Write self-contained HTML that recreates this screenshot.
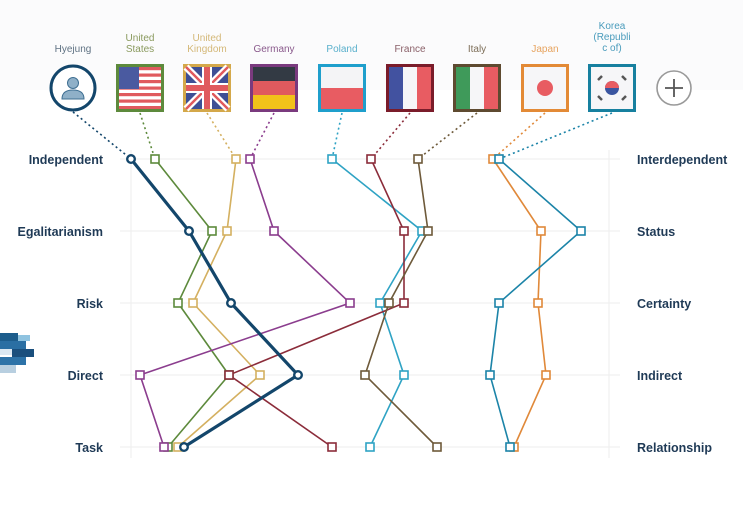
<!DOCTYPE html>
<html><head><meta charset="utf-8"><style>
body{margin:0;background:#fff;}
svg{display:block;font-family:"Liberation Sans","DejaVu Sans",sans-serif;}
</style></head><body>
<svg width="743" height="513" viewBox="0 0 743 513" xmlns="http://www.w3.org/2000/svg">
<rect width="743" height="513" fill="#fff"/>
<rect width="743" height="90" fill="#fbfbfc"/>
<g stroke="#eeeeee" stroke-width="1">
<line x1="120" y1="159" x2="620" y2="159"/><line x1="120" y1="231" x2="620" y2="231"/>
<line x1="120" y1="303" x2="620" y2="303"/><line x1="120" y1="375" x2="620" y2="375"/>
<line x1="120" y1="447" x2="620" y2="447"/>
<line x1="131" y1="150" x2="131" y2="458"/><line x1="609" y1="150" x2="609" y2="458"/>
</g>
<g font-size="12.5" font-weight="bold" fill="#1f3a56">
<text x="103" y="164" text-anchor="end">Independent</text>
<text x="103" y="236" text-anchor="end">Egalitarianism</text>
<text x="103" y="308" text-anchor="end">Risk</text>
<text x="103" y="380" text-anchor="end">Direct</text>
<text x="103" y="452" text-anchor="end">Task</text>
<text x="637" y="164">Interdependent</text>
<text x="637" y="236">Status</text>
<text x="637" y="308">Certainty</text>
<text x="637" y="380">Indirect</text>
<text x="637" y="452">Relationship</text>
</g>
<rect x="0" y="333" width="18" height="8" fill="#1d5d8c"/><rect x="18" y="335" width="12" height="6" fill="#8fc3e0"/>
<rect x="0" y="341" width="26" height="8" fill="#2a6fa3"/><rect x="0" y="349" width="12" height="6" fill="#dbe8f2"/>
<rect x="12" y="349" width="22" height="8" fill="#1a4f7d"/><rect x="0" y="357" width="26" height="8" fill="#2d73a8"/>
<rect x="0" y="365" width="16" height="8" fill="#b8cfe0"/>
<g stroke-dasharray="2,3" stroke-width="1.6" fill="none">
<line x1="73" y1="112" x2="131" y2="159" stroke="#13466b"/>
<line x1="140" y1="113" x2="155" y2="159" stroke="#5d8a3c"/>
<line x1="207" y1="113" x2="236" y2="159" stroke="#d4b060"/>
<line x1="274" y1="113" x2="250" y2="159" stroke="#8b3d8e"/>
<line x1="342" y1="113" x2="332" y2="159" stroke="#2fa3c4"/>
<line x1="410" y1="113" x2="371" y2="159" stroke="#8b2c3a"/>
<line x1="477" y1="113" x2="418" y2="159" stroke="#6e5a3a"/>
<line x1="545" y1="113" x2="493" y2="159" stroke="#e0893a"/>
<line x1="612" y1="113" x2="499" y2="159" stroke="#1c84a8"/>
</g>
<g fill="none" stroke-width="1.6">
<polyline points="155,159 212,231 178,303 229,375 168,447" stroke="#5d8a3c"/>
<polyline points="236,159 227,231 193,303 260,375 178,447" stroke="#d4b060"/>
<polyline points="250,159 274,231 350,303 140,375 164,447" stroke="#8b3d8e"/>
<polyline points="332,159 422,231 380,303 404,375 370,447" stroke="#2fa3c4"/>
<polyline points="371,159 404,231 404,303 229,375 332,447" stroke="#8b2c3a"/>
<polyline points="418,159 428,231 389,303 365,375 437,447" stroke="#6e5a3a"/>
<polyline points="493,159 541,231 538,303 546,375 514,447" stroke="#e0893a"/>
<polyline points="499,159 581,231 499,303 490,375 510,447" stroke="#1c84a8"/>
</g>
<polyline points="131,159 189,231 231,303 298,375 184,447" fill="none" stroke="#13466b" stroke-width="3.2"/>
<g fill="#fff" stroke-width="1.6">
<g stroke="#5d8a3c"><rect x="151" y="155" width="8" height="8"/><rect x="208" y="227" width="8" height="8"/><rect x="174" y="299" width="8" height="8"/><rect x="225" y="371" width="8" height="8"/><rect x="164" y="443" width="8" height="8"/></g>
<g stroke="#d4b060"><rect x="232" y="155" width="8" height="8"/><rect x="223" y="227" width="8" height="8"/><rect x="189" y="299" width="8" height="8"/><rect x="256" y="371" width="8" height="8"/><rect x="174" y="443" width="8" height="8"/></g>
<g stroke="#8b3d8e"><rect x="246" y="155" width="8" height="8"/><rect x="270" y="227" width="8" height="8"/><rect x="346" y="299" width="8" height="8"/><rect x="136" y="371" width="8" height="8"/><rect x="160" y="443" width="8" height="8"/></g>
<g stroke="#2fa3c4"><rect x="328" y="155" width="8" height="8"/><rect x="418" y="227" width="8" height="8"/><rect x="376" y="299" width="8" height="8"/><rect x="400" y="371" width="8" height="8"/><rect x="366" y="443" width="8" height="8"/></g>
<g stroke="#8b2c3a"><rect x="367" y="155" width="8" height="8"/><rect x="400" y="227" width="8" height="8"/><rect x="400" y="299" width="8" height="8"/><rect x="225" y="371" width="8" height="8"/><rect x="328" y="443" width="8" height="8"/></g>
<g stroke="#6e5a3a"><rect x="414" y="155" width="8" height="8"/><rect x="424" y="227" width="8" height="8"/><rect x="385" y="299" width="8" height="8"/><rect x="361" y="371" width="8" height="8"/><rect x="433" y="443" width="8" height="8"/></g>
<g stroke="#e0893a"><rect x="489" y="155" width="8" height="8"/><rect x="537" y="227" width="8" height="8"/><rect x="534" y="299" width="8" height="8"/><rect x="542" y="371" width="8" height="8"/><rect x="510" y="443" width="8" height="8"/></g>
<g stroke="#1c84a8"><rect x="495" y="155" width="8" height="8"/><rect x="577" y="227" width="8" height="8"/><rect x="495" y="299" width="8" height="8"/><rect x="486" y="371" width="8" height="8"/><rect x="506" y="443" width="8" height="8"/></g>
<g stroke="#13466b" stroke-width="2.4"><circle cx="131" cy="159" r="3.8"/><circle cx="189" cy="231" r="3.8"/><circle cx="231" cy="303" r="3.8"/><circle cx="298" cy="375" r="3.8"/><circle cx="184" cy="447" r="3.8"/></g>
</g>
<g font-size="10" text-anchor="middle">
<text x="73" y="52" fill="#5f7283">Hyejung</text>
<text x="140" y="41" fill="#8a9a5e">United</text><text x="140" y="52" fill="#8a9a5e">States</text>
<text x="207" y="41" fill="#d4b878">United</text><text x="207" y="52" fill="#d4b878">Kingdom</text>
<text x="274" y="52" fill="#8a5a8c">Germany</text>
<text x="342" y="52" fill="#5ab0cc">Poland</text>
<text x="410" y="52" fill="#8a6068">France</text>
<text x="477" y="52" fill="#7d6e58">Italy</text>
<text x="545" y="52" fill="#e7a460">Japan</text>
<text x="612" y="29" fill="#4a9cbc">Korea</text><text x="612" y="40" fill="#4a9cbc">(Republi</text><text x="612" y="51" fill="#4a9cbc">c of)</text>
</g>
<circle cx="73" cy="88" r="22" fill="#fff" stroke="#13466b" stroke-width="3"/>
<circle cx="73" cy="83" r="5.5" fill="#8fb0c8" stroke="#3f6f92" stroke-width="1"/>
<path d="M62,99 Q62,90 73,90 Q84,90 84,99 Z" fill="#8fb0c8" stroke="#3f6f92" stroke-width="1"/>
<g>
<rect x="116" y="64" width="48" height="48" fill="#5d8a3c"/>
<rect x="119" y="67" width="42" height="42" fill="#fff"/>
<g fill="#e05a5e"><rect x="119" y="67" width="42" height="3.2"/><rect x="119" y="73.5" width="42" height="3.2"/><rect x="119" y="80" width="42" height="3.2"/><rect x="119" y="86.5" width="42" height="3.2"/><rect x="119" y="93" width="42" height="3.2"/><rect x="119" y="99.5" width="42" height="3.2"/><rect x="119" y="106" width="42" height="3"/></g>
<rect x="119" y="67" width="20" height="22" fill="#4a5aa0"/>
</g>
<g>
<rect x="183" y="64" width="48" height="48" fill="#d4a84a"/>
<rect x="186" y="67" width="42" height="42" fill="#3e4f95"/>
<path d="M186,67 L228,109 M228,67 L186,109" stroke="#fff" stroke-width="7"/>
<path d="M186,67 L228,109 M228,67 L186,109" stroke="#e05a5e" stroke-width="2.5"/>
<rect x="186" y="83" width="42" height="10" fill="#fff"/><rect x="202" y="67" width="10" height="42" fill="#fff"/>
<rect x="186" y="85" width="42" height="6" fill="#e05a5e"/><rect x="204" y="67" width="6" height="42" fill="#e05a5e"/>
</g>
<rect x="250" y="64" width="48" height="48" fill="#7a3a7e"/>
<rect x="253" y="67" width="42" height="14" fill="#333a44"/><rect x="253" y="81" width="42" height="14" fill="#e05a5e"/><rect x="253" y="95" width="42" height="14" fill="#f2c21a"/>
<rect x="318" y="64" width="48" height="48" fill="#1f9fcc"/>
<rect x="321" y="67" width="42" height="21" fill="#f4f4f6"/><rect x="321" y="88" width="42" height="21" fill="#e85c62"/>
<rect x="386" y="64" width="48" height="48" fill="#7a1c2a"/>
<rect x="389" y="67" width="14" height="42" fill="#4252a0"/><rect x="403" y="67" width="14" height="42" fill="#f6f6f8"/><rect x="417" y="67" width="14" height="42" fill="#e85c62"/>
<rect x="453" y="64" width="48" height="48" fill="#5e4a30"/>
<rect x="456" y="67" width="14" height="42" fill="#3f9a5a"/><rect x="470" y="67" width="14" height="42" fill="#f6f6f8"/><rect x="484" y="67" width="14" height="42" fill="#e85c62"/>
<rect x="521" y="64" width="48" height="48" fill="#e38a36"/>
<rect x="524" y="67" width="42" height="42" fill="#f6f6f8"/><circle cx="545" cy="88" r="8" fill="#e85c62"/>
<rect x="588" y="64" width="48" height="48" fill="#17809f"/>
<rect x="591" y="67" width="42" height="42" fill="#f6f6f8"/>
<circle cx="612" cy="88" r="7" fill="#3a55a0"/><path d="M605,88 A7,7 0 0 1 619,88 Z" fill="#e85c62"/>
<g stroke="#555" stroke-width="2.5"><line x1="598" y1="80" x2="602" y2="76"/><line x1="622" y1="76" x2="626" y2="80"/><line x1="598" y1="96" x2="602" y2="100"/><line x1="622" y1="100" x2="626" y2="96"/></g>
<circle cx="674" cy="88" r="17" fill="#fff" stroke="#999" stroke-width="1.6"/>
<path d="M665,88 H683 M674,79 V97" stroke="#555" stroke-width="1.8"/>
</svg>
</body></html>
